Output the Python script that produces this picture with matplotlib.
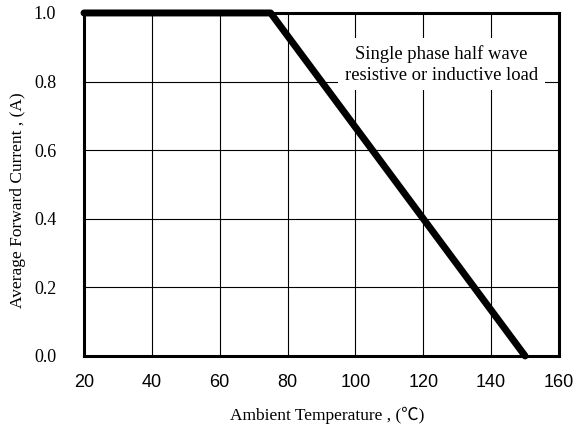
import matplotlib
matplotlib.use("Agg")
import matplotlib.pyplot as plt

temps = [20, 75, 150]
current = [1.0, 1.0, 0.0]
x_ticks = [20, 40, 60, 80, 100, 120, 140, 160]
y_ticks = [0.0, 0.2, 0.4, 0.6, 0.8, 1.0]
y_tick_labels = ["0.0", "0.2", "0.4", "0.6", "0.8", "1.0"]
note = "Single phase half wave\nresistive or inductive load"

fig = plt.figure(figsize=(5.73, 4.32), dpi=100)
ax = fig.add_axes([0.1466, 0.176, 0.829, 0.794])
ax.set_xlim(20, 160)
ax.set_ylim(0, 1.0)
ax.set_xticks(x_ticks)
ax.set_yticks(y_ticks)
ax.set_xticklabels([str(t) for t in x_ticks], family="Liberation Sans", fontsize=13)
ax.set_yticklabels(y_tick_labels, family="Liberation Serif", fontsize=13)
ax.tick_params(length=0)
ax.tick_params(axis="x", pad=13)
ax.tick_params(axis="y", pad=20)
ax.grid(True, color="black", linewidth=0.8)
ax.set_axisbelow(True)
for s in ax.spines.values():
    s.set_linewidth(2.2)
ax.plot(temps, current, color="black", linewidth=5, solid_capstyle="round", zorder=3, clip_on=False)
ax.text(0.752, 0.85, note, transform=ax.transAxes, ha="center", va="center",
        family="Liberation Serif", fontsize=13.4, linespacing=1.27,
        bbox=dict(facecolor="white", edgecolor="none", pad=5), zorder=2.5)
ax.set_xlabel("Ambient Temperature , (\u2103)", family=["Liberation Serif", "Noto Sans CJK JP"], fontsize=12.5)
ax.set_ylabel("Average Forward Current , (A)", family=["Liberation Serif", "Noto Sans CJK JP"], fontsize=12.5)
ax.xaxis.set_label_coords(0.512, -0.172)
ax.yaxis.set_label_coords(-0.139, 0.455)
ax.xaxis.label.set_va("center")
ax.yaxis.label.set_va("center")
fig.savefig("out.png", dpi=100)
